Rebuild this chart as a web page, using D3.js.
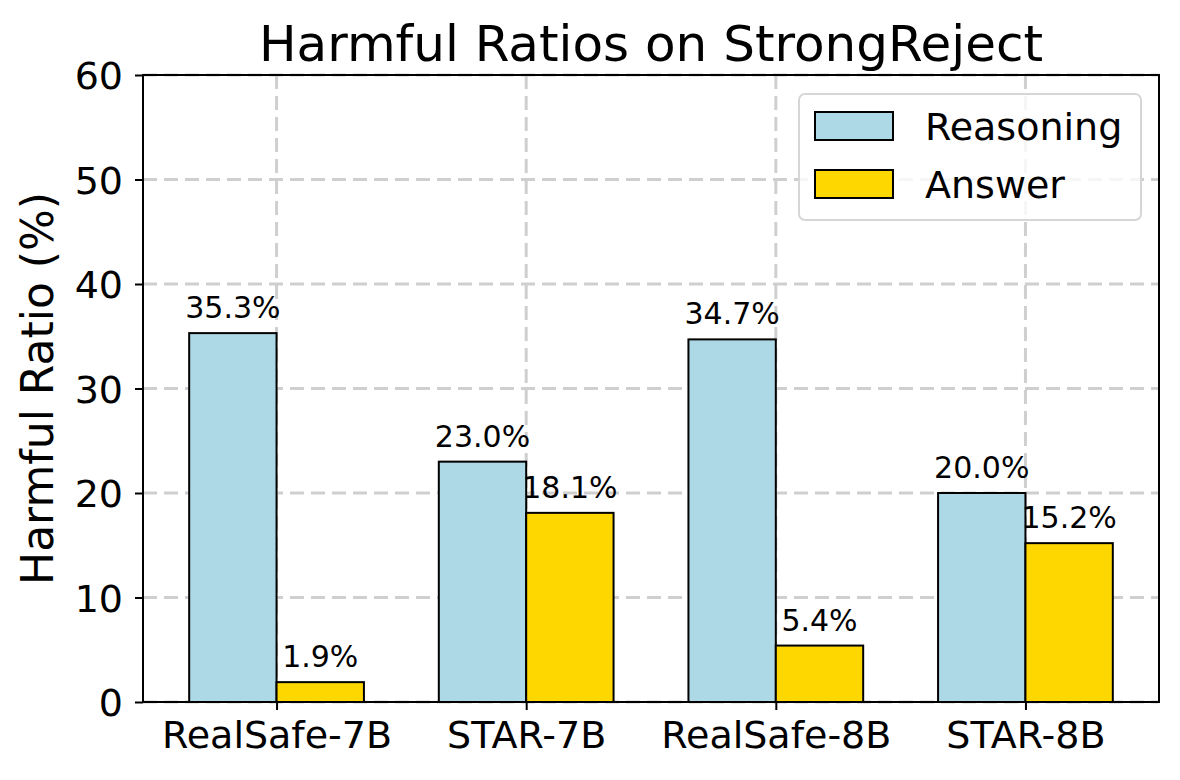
<!DOCTYPE html>
<html>
<head>
<meta charset="utf-8">
<script src="https://cdn.jsdelivr.net/npm/d3@7/dist/d3.min.js"></script>
<style>
	body { margin: 0; background: #fff; }
	text { font-family: "DejaVu Sans", sans-serif; }
</style>
</head>
<body>
<div id="chart"></div>
<script>
// Data
//---------------------------------------------------------------------------
var models = ["RealSafe-7B", "STAR-7B", "RealSafe-8B", "STAR-8B"];
var reasoning = [35.3, 23.0, 34.7, 20.0];
var answer = [1.9, 18.1, 5.4, 15.2];
var seriesNames = ["Reasoning", "Answer"];
var seriesColors = ["#add8e6", "#ffd700"];
var yTicks = [0, 10, 20, 30, 40, 50, 60];

// Chart
//---------------------------------------------------------------------------
var W = 1180, H = 780;
var m = { top: 75, right: 21, bottom: 78, left: 143 };
var w = W - m.left - m.right;
var h = H - m.top - m.bottom;
var barW = 0.35;

var svg = d3.select("#chart").append("svg")
	.attr("width", W)
	.attr("height", H);

var g = svg.append("g")
	.attr("transform", "translate(" + m.left + "," + m.top + ")");

// linear x so that bars sit like matplotlib (index +/- width)
var x = d3.scaleLinear()
	.domain([-0.535, models.length - 1 + 0.535])
	.range([0, w]);
var y = d3.scaleLinear().domain([0, 60]).range([h, 0]);

// grid
g.append("g").selectAll("line")
	.data(yTicks).enter()
	.append("line")
	.attr("x1", 0).attr("x2", w)
	.attr("y1", function(d) { return y(d); })
	.attr("y2", function(d) { return y(d); })
	.attr("stroke", "#cfcfcf")
	.attr("stroke-width", 3)
	.attr("stroke-dasharray", "14,7");
g.append("g").selectAll("line")
	.data(models).enter()
	.append("line")
	.attr("y1", 0).attr("y2", h)
	.attr("x1", function(d, i) { return x(i); })
	.attr("x2", function(d, i) { return x(i); })
	.attr("stroke", "#cfcfcf")
	.attr("stroke-width", 3)
	.attr("stroke-dasharray", "14,7");

// bars
var series = [reasoning, answer];
series.forEach(function(vals, s) {
	var offset = s === 0 ? -barW : 0;
	g.append("g").selectAll("rect")
		.data(vals).enter()
		.append("rect")
		.attr("x", function(d, i) { return x(i + offset); })
		.attr("width", x(barW) - x(0))
		.attr("y", function(d) { return y(d); })
		.attr("height", function(d) { return h - y(d); })
		.attr("fill", seriesColors[s])
		.attr("stroke", "#000")
		.attr("stroke-width", 2);
	g.append("g").selectAll("text")
		.data(vals).enter()
		.append("text")
		.attr("x", function(d, i) { return x(i + offset + barW / 2); })
		.attr("y", function(d) { return y(d) - 15; })
		.attr("text-anchor", "middle")
		.attr("font-size", "30px")
		.text(function(d) { return d.toFixed(1) + "%"; });
});

// axes
var xAxis = d3.axisBottom(x)
	.tickValues(d3.range(models.length))
	.tickFormat(function(d) { return models[d]; })
	.tickSize(8).tickPadding(6);
var yAxis = d3.axisLeft(y)
	.tickValues(yTicks)
	.tickSize(8).tickPadding(12);

var gx = g.append("g").attr("transform", "translate(0," + h + ")").call(xAxis);
var gy = g.append("g").call(yAxis);
[gx, gy].forEach(function(a) {
	a.select(".domain").remove();
	a.selectAll(".tick line").attr("stroke", "#000").attr("stroke-width", 2);
	a.selectAll(".tick text").attr("font-size", "38px").attr("fill", "#000")
		.style("font-family", "DejaVu Sans, sans-serif");
});
gx.selectAll(".tick text").attr("dy", "0.83em");
gy.selectAll(".tick text").attr("dy", "0.36em");

// frame
g.append("rect")
	.attr("width", w).attr("height", h)
	.attr("fill", "none")
	.attr("stroke", "#000")
	.attr("stroke-width", 2);

// title and y label
svg.append("text")
	.attr("x", m.left + w / 2)
	.attr("y", 61)
	.attr("text-anchor", "middle")
	.attr("font-size", "50px")
	.text("Harmful Ratios on StrongReject");
svg.append("text")
	.attr("transform", "translate(53," + (m.top + h / 2) + ") rotate(-90)")
	.attr("text-anchor", "middle")
	.attr("font-size", "44px")
	.text("Harmful Ratio (%)");

// legend
var leg = svg.append("g").attr("transform", "translate(799,94)");
leg.append("rect")
	.attr("width", 342).attr("height", 126)
	.attr("rx", 6)
	.attr("fill", "rgba(255,255,255,0.8)")
	.attr("stroke", "#d6d6d6")
	.attr("stroke-width", 2);
seriesNames.forEach(function(name, i) {
	leg.append("rect")
		.attr("x", 16).attr("y", 18 + i * 58)
		.attr("width", 78).attr("height", 28)
		.attr("fill", seriesColors[i])
		.attr("stroke", "#000")
		.attr("stroke-width", 2);
	leg.append("text")
		.attr("x", 126).attr("y", 46 + i * 58)
		.attr("font-size", "38px")
		.text(name);
});
</script>
</body>
</html>
